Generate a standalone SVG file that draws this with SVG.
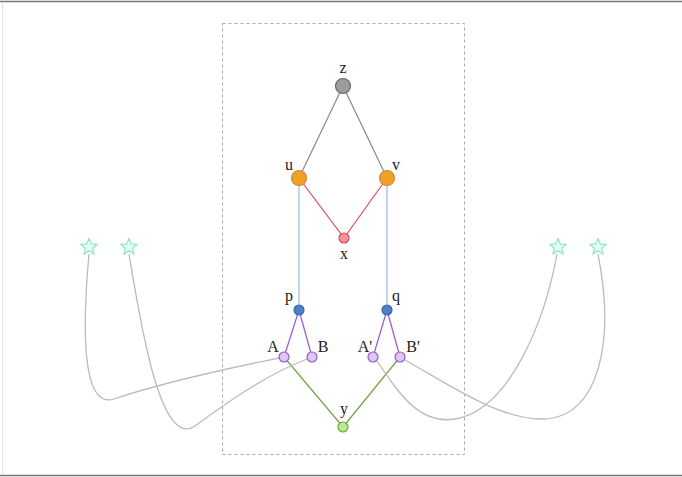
<svg xmlns="http://www.w3.org/2000/svg" xmlns:xlink="http://www.w3.org/1999/xlink" width="682" height="477" viewBox="0 0 682 477">
<style>
.lbl{font-family:"Liberation Serif","DejaVu Serif",serif;font-size:16px;fill:#222;text-anchor:middle}
.e{fill:none;stroke-width:1.2}
.gray{stroke:#888}
.red{stroke:#e04a5c}
.blue{stroke:#9ab8e4}
.purple{stroke:#9858d0}
.green{stroke:#74a444}
.curve{fill:none;stroke:#bbb;stroke-width:1.3}
.star{fill:#e6fff6;stroke:#8ee6c8;stroke-width:1.2}
</style>
<defs>
<polygon id="star" points="0,-8.5 2.25,-3.09 8.08,-2.63 3.63,1.18 4.99,6.88 0,3.82 -4.99,6.88 -3.63,1.18 -8.08,-2.63 -2.25,-3.09"/>
</defs>
<rect width="682" height="477" fill="#fff"/>
<line x1="0" y1="1.5" x2="682" y2="1.5" stroke="#777" stroke-width="1.5"/>
<line x1="0" y1="475.5" x2="682" y2="475.5" stroke="#777" stroke-width="1.5"/>
<line x1="2.5" y1="2" x2="2.5" y2="475" stroke="#e2e2e2" stroke-width="1"/>
<rect x="222.5" y="23.5" width="242" height="431" fill="none" stroke="#aaa" stroke-width="1" stroke-dasharray="3,3"/>
<g id="connectors">
<line class="e gray" x1="343" y1="86" x2="299" y2="178"/>
<line class="e gray" x1="343" y1="86" x2="387" y2="178"/>
<line class="e red" x1="299" y1="178" x2="344" y2="238"/>
<line class="e red" x1="387" y1="178" x2="344" y2="238"/>
<line class="e blue" x1="299" y1="178" x2="299" y2="310"/>
<line class="e blue" x1="387" y1="178" x2="387" y2="310"/>
<line class="e purple" x1="299" y1="310" x2="284" y2="357"/>
<line class="e purple" x1="299" y1="310" x2="312" y2="357"/>
<line class="e purple" x1="387" y1="310" x2="373" y2="357"/>
<line class="e purple" x1="387" y1="310" x2="400" y2="357"/>
<line class="e green" x1="284" y1="357" x2="343" y2="427"/>
<line class="e green" x1="400" y1="357" x2="343" y2="427"/>
<path class="curve" d="M89,254 C83,320 80,410 114,399 C170,380 240,366 279,358"/>
<path class="curve" d="M129,254 C140,320 160,450 195,426 C222,406 265,375 307,359"/>
<path class="curve" d="M377,361 C400,395 420,425 455,419 C510,410 545,320 557,254"/>
<path class="curve" d="M405,360 C450,385 500,420 543,419 C600,418 615,340 598,254"/>
</g>
<g id="node-z"><circle cx="343" cy="86" r="7.5" fill="#9c9c9c" stroke="#666" stroke-width="1.2"/><text class="lbl" x="343" y="73">z</text></g>
<g id="node-u"><circle cx="299" cy="178" r="7.5" fill="#f2a124" stroke="#c88a3a" stroke-width="1.2"/><text class="lbl" x="289" y="170">u</text></g>
<g id="node-v"><circle cx="387" cy="178" r="7.5" fill="#f2a124" stroke="#c88a3a" stroke-width="1.2"/><text class="lbl" x="396" y="170">v</text></g>
<g id="node-x"><circle cx="344" cy="238" r="5" fill="#f6919e" stroke="#d84a5c" stroke-width="1.2"/><text class="lbl" x="344" y="259">x</text></g>
<g id="node-p"><circle cx="299" cy="310" r="5" fill="#4a80c8" stroke="#3a68a8" stroke-width="1.2"/><text class="lbl" x="289" y="301">p</text></g>
<g id="node-q"><circle cx="387" cy="310" r="5" fill="#4a80c8" stroke="#3a68a8" stroke-width="1.2"/><text class="lbl" x="396" y="301">q</text></g>
<g id="node-A"><circle cx="284" cy="357" r="5" fill="#dec8f2" stroke="#9858d0" stroke-width="1.2"/><text class="lbl" x="273" y="352">A</text></g>
<g id="node-B"><circle cx="312" cy="357" r="5" fill="#dec8f2" stroke="#9858d0" stroke-width="1.2"/><text class="lbl" x="323" y="352">B</text></g>
<g id="node-A2"><circle cx="373" cy="357" r="5" fill="#dec8f2" stroke="#9858d0" stroke-width="1.2"/><text class="lbl" x="365" y="352">A'</text></g>
<g id="node-B2"><circle cx="400" cy="357" r="5" fill="#dec8f2" stroke="#9858d0" stroke-width="1.2"/><text class="lbl" x="413" y="352">B'</text></g>
<g id="node-y"><circle cx="343" cy="427" r="5" fill="#b8e890" stroke="#74a444" stroke-width="1.2"/><text class="lbl" x="344" y="414">y</text></g>
<g id="star-1"><use xlink:href="#star" href="#star" class="star" x="89" y="247"/></g>
<g id="star-2"><use xlink:href="#star" href="#star" class="star" x="129" y="247"/></g>
<g id="star-3"><use xlink:href="#star" href="#star" class="star" x="558" y="247"/></g>
<g id="star-4"><use xlink:href="#star" href="#star" class="star" x="598" y="247"/></g>
</svg>
